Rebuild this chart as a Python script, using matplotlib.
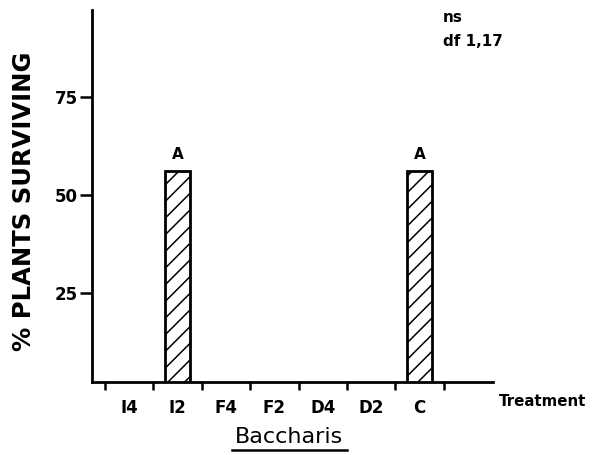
import matplotlib
matplotlib.use("Agg")
import matplotlib.pyplot as plt

# Survival of Baccharis plants by treatment
treatments = ["I4", "I2", "F4", "F2", "D4", "D2", "C"]
survival = [0, 56, 0, 0, 0, 0, 56]
letters = ["", "A", "", "", "", "", "A"]
y_ticks = [25, 50, 75]

plt.rcParams["font.family"] = ["DejaVu Sans"]
plt.rcParams["hatch.linewidth"] = 1.1

fig = plt.figure(figsize=(5.92, 4.55), dpi=100)
ax = fig.add_axes([0.1554, 0.1604, 0.6774, 0.8176])

x = list(range(len(treatments)))
for xi, val, lab in zip(x, survival, letters):
    if val > 0:
        ax.bar(xi, val, width=0.53, bottom=0, facecolor="white",
               edgecolor="black", linewidth=2, hatch="//", zorder=2)
        ax.text(xi, val + 2.5, lab, ha="center", va="bottom",
                fontsize=11, fontweight="bold")

ax.set_xlim(-0.77, 7.52)
ax.set_ylim(2.5, 97)

for s in ["top", "right"]:
    ax.spines[s].set_visible(False)
for s in ["left", "bottom"]:
    ax.spines[s].set_linewidth(2)
    ax.spines[s].set_zorder(3)

ax.set_yticks(y_ticks)
ax.set_yticklabels([str(v) for v in y_ticks], fontsize=12, fontweight="bold")
ax.tick_params(axis="y", length=9, width=1.8, pad=1)

# category boundaries carry the tick marks; names sit between them
ax.set_xticks([i - 0.5 for i in range(len(treatments) + 1)])
ax.set_xticklabels([])
ax.tick_params(axis="x", length=6, width=1.8)
for xi, name in zip(x, treatments):
    ax.text(xi, -0.045, name, transform=ax.get_xaxis_transform(),
            ha="center", va="top", fontsize=12, fontweight="bold")

fig.text(0.843, 0.1165, "Treatment", ha="left", va="center", fontsize=10.8,
         fontweight="bold")
fig.text(0.4875, 0.04, "Baccharis", ha="center", va="center", fontsize=16)
fig.add_artist(plt.Line2D([0.392, 0.586], [0.011, 0.011], color="black",
                          linewidth=1.8, transform=fig.transFigure))

fig.text(0.04, 0.558, "% PLANTS SURVIVING", rotation=90, ha="center",
         va="center", fontsize=17.5, fontweight="bold")

fig.text(0.748, 0.962, "ns", ha="left", va="center", fontsize=11,
         fontweight="bold")
fig.text(0.748, 0.908, "df 1,17", ha="left", va="center", fontsize=11,
         fontweight="bold")

fig.savefig("out.png", dpi=100)
